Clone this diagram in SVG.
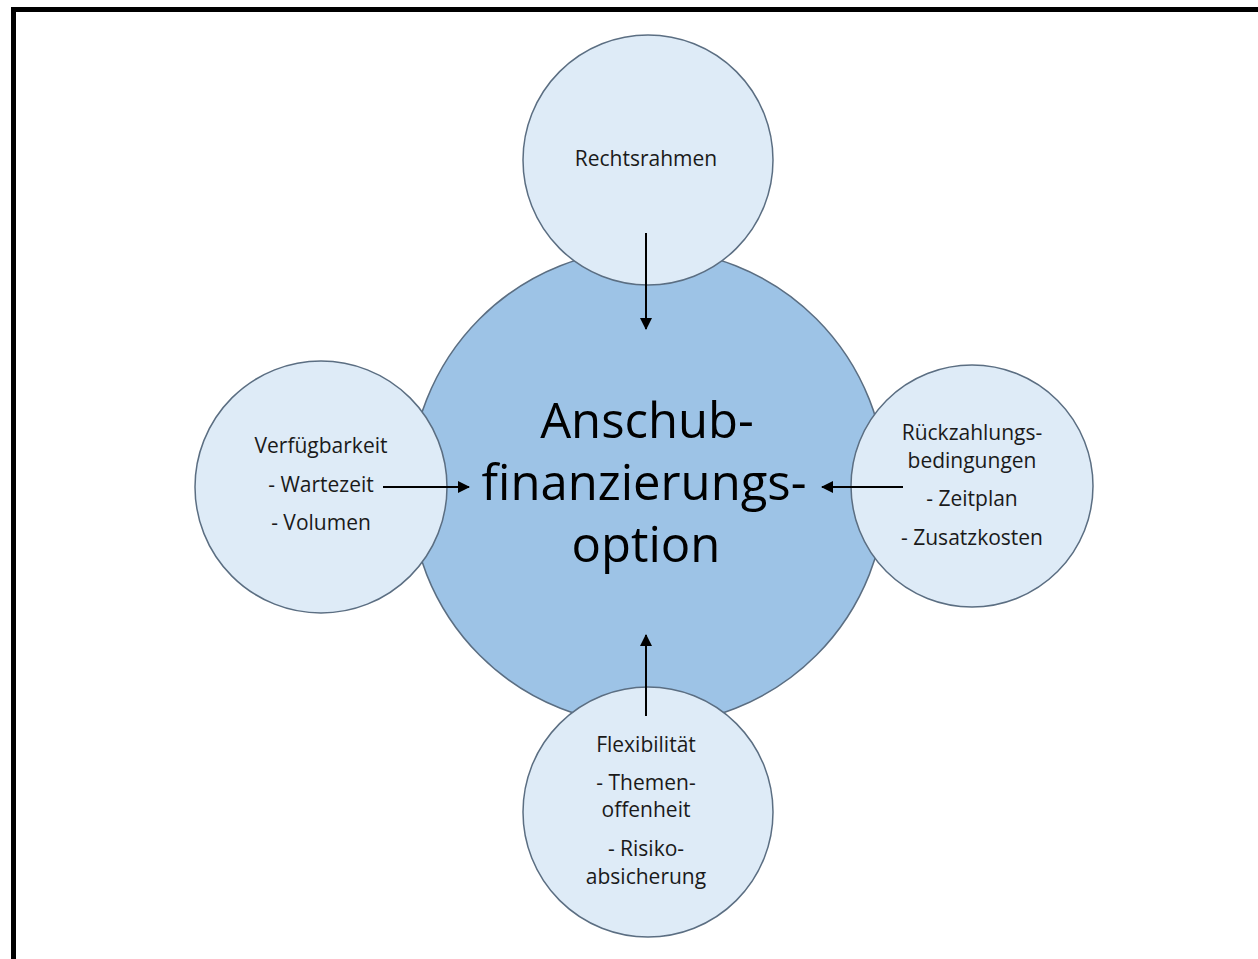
<svg xmlns="http://www.w3.org/2000/svg" width="1258" height="959" viewBox="0 0 1258 959">
<defs>
<marker id="ah" markerWidth="12" markerHeight="12" refX="11" refY="6" orient="auto" markerUnits="userSpaceOnUse" viewBox="0 0 12 12">
<path d="M0,0 L12,6 L0,12 z" fill="#000"/>
</marker>
<style>
.big{fill:#9dc3e6;stroke:#5b6e82;stroke-width:1.5}
.sm{fill:#deebf7;stroke:#5b6e82;stroke-width:1.5}
.t{font-family:"Open Sans","Liberation Sans",sans-serif;font-size:21px;fill:#1a1a1a;text-anchor:middle}
.tb{font-family:"Open Sans","Liberation Sans",sans-serif;font-size:49px;fill:#000;text-anchor:middle}
.c{stroke:#000;stroke-width:2;fill:none;marker-end:url(#ah)}
</style>
</defs>
<rect width="1258" height="959" fill="#fff"/>
<path d="M13.5,980 L13.5,9.5 L1270,9.5" fill="none" stroke="#000" stroke-width="5"/>
<g id="center">
<circle class="big" cx="648" cy="487" r="238"/>
<text class="tb" x="647" y="438">Anschub-</text>
<text class="tb" x="644" y="500">finanzierungs-</text>
<text class="tb" x="646" y="562">option</text>
</g>
<g id="rechtsrahmen">
<circle class="sm" cx="648" cy="160" r="125"/>
<text class="t" x="646" y="166">Rechtsrahmen</text>
</g>
<g id="verfuegbarkeit">
<circle class="sm" cx="321" cy="487" r="126"/>
<text class="t" x="321" y="453">Verfügbarkeit</text>
<text class="t" x="321" y="492">- Wartezeit</text>
<text class="t" x="321" y="530">- Volumen</text>
</g>
<g id="rueckzahlung">
<circle class="sm" cx="972" cy="486" r="121"/>
<text class="t" x="972" y="440">Rückzahlungs-</text>
<text class="t" x="972" y="468">bedingungen</text>
<text class="t" x="972" y="506">- Zeitplan</text>
<text class="t" x="972" y="545">- Zusatzkosten</text>
</g>
<g id="flexibilitaet">
<circle class="sm" cx="648" cy="812" r="125"/>
<text class="t" x="646" y="752">Flexibilität</text>
<text class="t" x="646" y="790">- Themen-</text>
<text class="t" x="646" y="817">offenheit</text>
<text class="t" x="646" y="856">- Risiko-</text>
<text class="t" x="646" y="884">absicherung</text>
</g>
<g id="connectors">
<line class="c" x1="646" y1="233" x2="646" y2="329"/>
<line class="c" x1="383" y1="487" x2="469" y2="487"/>
<line class="c" x1="903" y1="487" x2="822" y2="487"/>
<line class="c" x1="646" y1="716" x2="646" y2="635"/>
</g>
</svg>
